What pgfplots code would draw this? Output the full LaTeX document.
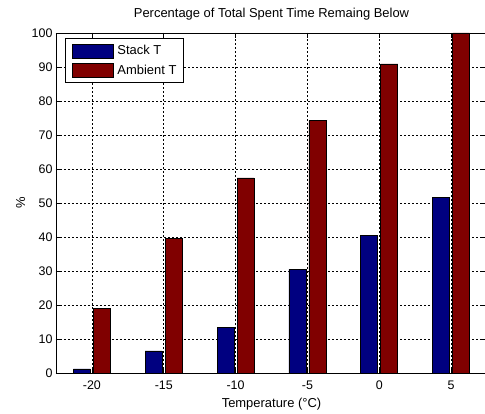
\documentclass[border=0pt]{standalone}
\usepackage{fontspec}
\setmainfont{Liberation Sans}
\usepackage{pgfplots}
\pgfplotsset{compat=1.18}

\definecolor{stackc}{rgb}{0,0,0.5}
\definecolor{ambc}{rgb}{0.5,0,0}

\begin{document}
\begin{tikzpicture}
\begin{axis}[
  scale only axis,
  width=431bp, height=340bp,
  xmin=-22.5, xmax=7.5, ymin=0, ymax=100,
  xtick={-20,-15,...,5}, ytick={0,10,...,100},
  tick align=inside, tick pos=both,
  major tick length=5bp,
  axis line style={black, line width=0.6bp},
  every tick/.style={black, line width=0.6bp},
  grid=major,
  major grid style={black, dash pattern=on 2bp off 2bp, line width=0.5bp},
  font=\fontsize{13}{15}\selectfont,
  tick label style={font=\fontsize{12.5}{15}\selectfont},
  /pgf/number format/assume math mode=true,
  xticklabel style={anchor=base, yshift=-16.5bp},
  title={Percentage of Total Spent Time Remaing Below},
  title style={at={(axis description cs:0.5,1)}, anchor=base, yshift=10bp},
  xlabel={Temperature (°C)},
  xlabel style={at={(axis description cs:0.5,0)}, anchor=base, yshift=-34bp},
  ylabel={\%},
  ylabel style={at={(axis description cs:-0.0719,0.5)}, anchor=base},
  legend style={at={(axis description cs:0.021,0.9844)}, anchor=north west,
    draw=black, line width=0.6bp, fill=white,
    inner xsep=7bp, inner ysep=5bp, row sep=5bp, column sep=3.5bp,
    nodes={inner sep=0bp},
    font=\fontsize{13}{15}\selectfont},
  legend cell align=left,
  legend image code/.code={\draw[#1, line width=0.6bp] (0bp,-7bp) rectangle (41bp,7bp);},
]
\addplot[ybar, bar width=17bp, bar shift=-10bp, fill=stackc, draw=black, line width=0.6bp]
  coordinates {(-20,1.2) (-15,6.5) (-10,13.4) (-5,30.5) (0,40.4) (5,51.6)};
\addlegendentry{Stack T}
\addplot[ybar, bar width=17bp, bar shift=10bp, fill=ambc, draw=black, line width=0.6bp]
  coordinates {(-20,19.0) (-15,39.7) (-10,57.4) (-5,74.2) (0,90.9) (5,100)};
\addlegendentry{Ambient T}
\end{axis}
\pgfresetboundingbox
\path[use as bounding box] (-56bp,-41bp) rectangle (429bp,373bp);
\end{tikzpicture}
\end{document}
